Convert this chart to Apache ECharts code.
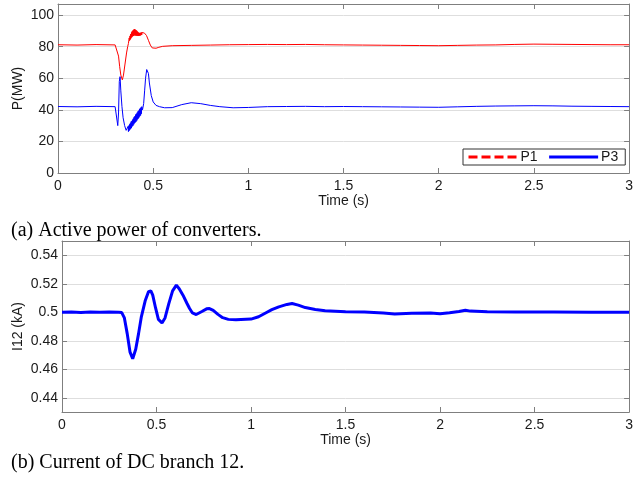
<!DOCTYPE html>
<html>
<head>
<meta charset="utf-8">
<script src="https://cdn.jsdelivr.net/npm/echarts@6/dist/echarts.min.js"></script>
<style>html,body{margin:0;padding:0;background:#fff}#c{width:636px;height:477px}</style>
</head>
<body>
<div id="c"></div>
<script>
// ---- data ----
const seriesNames = ['P1', 'P3'];
const captionA = '(a) Active power of converters.';
const captionB = '(b) Current of DC branch 12.';
const xTitle = 'Time (s)';
const yTitleA = 'P(MW)';
const yTitleB = 'I12 (kA)';

// P1 (red) active power, MW
const tP1 = [0, 0.1, 0.2, 0.3, 0.31, 0.318, 0.324, 0.33, 0.338, 0.344, 0.352, 0.36, 0.366, 0.37,
  0.372, 0.374, 0.376, 0.378, 0.38, 0.382, 0.384, 0.386, 0.388, 0.39, 0.392, 0.394, 0.396, 0.398,
  0.4, 0.402, 0.404, 0.406, 0.408, 0.41, 0.412, 0.414, 0.416, 0.418, 0.42, 0.422, 0.424, 0.426,
  0.428, 0.43, 0.432, 0.434, 0.436, 0.438, 0.44, 0.442, 0.444, 0.446, 0.448,
  0.455, 0.465, 0.475, 0.485, 0.495, 0.505, 0.515, 0.53, 0.55, 0.6, 0.7, 0.8, 0.9,
  1.0, 1.1, 1.2, 1.3, 1.4, 1.5, 1.6, 1.7, 1.8, 1.9, 2.0, 2.1, 2.2, 2.3, 2.4, 2.5, 2.6, 2.7, 2.8, 2.9, 3.0];
const vP1 = [81.2, 81.0, 81.3, 81.1, 80.5, 74, 67.3, 62, 59, 62, 69, 76, 80, 82,
  83, 85.5, 83.8, 86.8, 84.5, 88, 85.3, 89, 86, 89.8, 86.5, 90.3, 86.8, 90.8,
  87, 91, 87.2, 90.8, 87, 90.5, 87, 90, 86.8, 89.5, 86.8, 89, 86.8, 88.8,
  87, 88.6, 87, 88.8, 87.3, 89, 87.5, 89, 88, 88.8, 88.2,
  88.5, 87, 84, 81, 79.2, 78.7, 79, 79.6, 80.2, 80.6, 80.8, 81.0, 81.2,
  81.3, 81.4, 81.3, 81.4, 81.2, 81.1, 81.0, 80.9, 80.8, 80.7, 80.6, 80.8, 81.0, 81.1, 81.4, 81.6, 81.5, 81.4, 81.3, 81.2, 81.2];

// P3 (blue) active power, MW
const tP3 = [0, 0.1, 0.2, 0.3, 0.31, 0.314, 0.318, 0.322, 0.326, 0.33, 0.336, 0.342, 0.35, 0.358, 0.364,
  0.366, 0.368, 0.37, 0.372, 0.374, 0.376, 0.378, 0.38, 0.382, 0.384, 0.386, 0.388, 0.39, 0.392, 0.394,
  0.396, 0.398, 0.4, 0.402, 0.404, 0.406, 0.408, 0.41, 0.412, 0.414, 0.416, 0.418, 0.42, 0.422, 0.424,
  0.426, 0.428, 0.43, 0.432, 0.434, 0.436, 0.438, 0.44,
  0.444, 0.45, 0.455, 0.46, 0.466, 0.47, 0.475, 0.48, 0.49, 0.5, 0.515, 0.533,
  0.56, 0.6, 0.65, 0.7, 0.75, 0.8, 0.85, 0.92, 1.0, 1.1, 1.2, 1.3, 1.4, 1.5, 1.6, 1.7, 1.8, 1.9, 2.0,
  2.1, 2.2, 2.3, 2.4, 2.5, 2.6, 2.7, 2.8, 2.9, 3.0];
const vP3 = [42.1, 41.9, 42.2, 42.0, 42, 30, 38, 58, 61, 52, 42, 35, 30, 27, 26,
  26.5, 29.5, 26.2, 30, 26.8, 30.8, 27.5, 31.5, 28, 32.5, 28.5, 33, 29.5, 33.8, 30,
  34.5, 30.8, 35.5, 31.5, 36, 32, 37, 32.5, 37.5, 33.2, 38.2, 34, 39, 34.5, 39.5,
  35.2, 40.5, 36, 41, 36.5, 41.5, 37.5, 42,
  40, 44, 52, 60, 65.5, 66, 63, 57, 49, 45, 42.8, 42,
  41.3, 41.4, 43.3, 44.5, 43.9, 42.8, 42, 41.3, 41.5, 42, 42.1, 42.2, 42.0, 42.1, 42.0, 41.9, 41.8, 41.7, 41.6,
  41.9, 42.2, 42.4, 42.5, 42.6, 42.5, 42.3, 42.2, 42.1, 42.0];

// I12 (blue) branch current, kA
const tI12 = [0, 0.05, 0.1, 0.15, 0.2, 0.25, 0.3, 0.316, 0.33, 0.345, 0.36, 0.374, 0.39, 0.405, 0.42, 0.44,
  0.458, 0.47, 0.48, 0.495, 0.51, 0.529, 0.545, 0.565, 0.585, 0.605, 0.62, 0.64, 0.66, 0.675, 0.69, 0.71,
  0.74, 0.765, 0.78, 0.8, 0.825, 0.85, 0.88, 0.92, 1.0, 1.04, 1.077, 1.11, 1.147, 1.19, 1.217, 1.25, 1.287,
  1.34, 1.392, 1.5, 1.6, 1.7, 1.76, 1.85, 1.95, 2.0, 2.05, 2.1, 2.134, 2.16, 2.25, 2.4, 2.6, 2.8, 3.0];
const vI12 = [0.5, 0.5002, 0.4999, 0.5001, 0.5, 0.5001, 0.5, 0.4998, 0.496, 0.485, 0.472, 0.4674, 0.474, 0.485, 0.497, 0.508,
  0.5145, 0.515, 0.512, 0.503, 0.495, 0.4925, 0.496, 0.506, 0.515, 0.519, 0.5165, 0.512, 0.5065, 0.5026, 0.4995, 0.4984,
  0.5005, 0.5024, 0.5026, 0.5013, 0.4985, 0.4962, 0.495, 0.4948, 0.4952, 0.4968, 0.4995, 0.5018, 0.5038, 0.5055, 0.5061, 0.505, 0.5033,
  0.502, 0.5011, 0.5003, 0.5001, 0.4995, 0.4988, 0.4993, 0.4995, 0.499, 0.4997, 0.5005, 0.5014, 0.5008, 0.5003, 0.5002, 0.5001, 0.5, 0.5];

// axis ranges / ticks
const xRange = [0, 3], xStep = 0.5;
const yRangeA = [0, 107], yStepA = 20;
const yRangeB = [0.43, 0.55];

// ---- chart ----
const sans = 'Liberation Sans, Arial, sans-serif';
const serif = 'Liberation Serif, Times New Roman, serif';
const axisGray = '#7f7f7f';
const gridGray = '#dedede';
const txt = '#1a1a1a';
const pairs = (t, v) => t.map((x, i) => [x, v[i]]);

function xAx(grid, withLabels) {
  return {
    type: 'value', gridIndex: grid, min: xRange[0], max: xRange[1], interval: xStep,
    position: withLabels ? 'bottom' : 'top',
    name: withLabels ? xTitle : '', nameLocation: 'middle', nameGap: 21, nameMoveOverlap: false,
    nameTextStyle: {fontFamily: sans, fontSize: 14, color: txt},
    axisLine: {show: true, onZero: false, lineStyle: {color: axisGray, width: 1}},
    axisTick: {show: true, inside: true, length: 5, lineStyle: {color: axisGray}},
    axisLabel: {show: withLabels, margin: 6, fontFamily: sans, fontSize: 14, color: txt},
    splitLine: {show: false}
  };
}
function yAx(grid, left, range, step, title, gap) {
  const o = {
    type: 'value', gridIndex: grid, min: range[0], max: range[1],
    position: left ? 'left' : 'right',
    name: left ? title : '', nameLocation: 'middle', nameGap: gap, nameMoveOverlap: false,
    nameTextStyle: {fontFamily: sans, fontSize: 14, color: txt},
    axisLine: {show: true, onZero: false, lineStyle: {color: axisGray, width: 1}},
    axisTick: {show: true, inside: true, length: 5, lineStyle: {color: axisGray}},
    axisLabel: {show: left, margin: 4, fontFamily: sans, fontSize: 14, color: txt,
      showMinLabel: grid === 0, showMaxLabel: false},
    splitLine: {show: left, lineStyle: {color: gridGray, width: 1}}
  };
  if (step) o.interval = step; else o.splitNumber = 6;
  return o;
}

const chart = echarts.init(document.getElementById('c'), null, {renderer: 'canvas'});
chart.setOption({
  animation: false,
  backgroundColor: '#fff',
  title: [
    {text: captionA, left: 6, top: 216, textStyle: {fontFamily: serif, fontSize: 20, fontWeight: 'normal', color: '#000'}},
    {text: captionB, left: 6, top: 448, textStyle: {fontFamily: serif, fontSize: 20, fontWeight: 'normal', color: '#000'}}
  ],
  grid: [
    {left: 58, top: 4, width: 574, height: 169},
    {left: 62, top: 241, width: 571, height: 171}
  ],
  xAxis: [xAx(0, true), xAx(0, false), xAx(1, true), xAx(1, false)],
  yAxis: [
    yAx(0, true, yRangeA, yStepA, yTitleA, 33),
    yAx(0, false, yRangeA, yStepA, '', 0),
    yAx(1, true, yRangeB, null, yTitleB, 37),
    yAx(1, false, yRangeB, null, '', 0)
  ],
  legend: {
    left: 463, top: 149,
    orient: 'horizontal',
    itemWidth: 49, itemHeight: 12, itemGap: 10,
    padding: [1, 7, 1, 4],
    borderColor: '#333', borderWidth: 1, backgroundColor: '#fff',
    itemStyle: {opacity: 0},
    textStyle: {fontFamily: sans, fontSize: 14, color: txt, padding: [0, 0, 0, -2]},
    data: [
      {name: seriesNames[0], itemStyle: {opacity: 0}, lineStyle: {width: 3, type: [9, 4], color: '#ff0000'}},
      {name: seriesNames[1], itemStyle: {opacity: 0}, lineStyle: {width: 3, type: 'solid', color: '#0000ff'}}
    ]
  },
  series: [
    {name: seriesNames[0], type: 'line', xAxisIndex: 0, yAxisIndex: 0, data: pairs(tP1, vP1),
      symbol: 'none', lineStyle: {color: '#ff0000', width: 1}, itemStyle: {color: '#ff0000'}},
    {name: seriesNames[1], type: 'line', xAxisIndex: 0, yAxisIndex: 0, data: pairs(tP3, vP3),
      symbol: 'none', lineStyle: {color: '#0000ff', width: 1}, itemStyle: {color: '#0000ff'}},
    {name: 'I12', type: 'line', xAxisIndex: 2, yAxisIndex: 2, data: pairs(tI12, vI12),
      symbol: 'none', lineStyle: {color: '#0000ff', width: 3}, itemStyle: {color: '#0000ff'}}
  ]
});
</script>
</body>
</html>
